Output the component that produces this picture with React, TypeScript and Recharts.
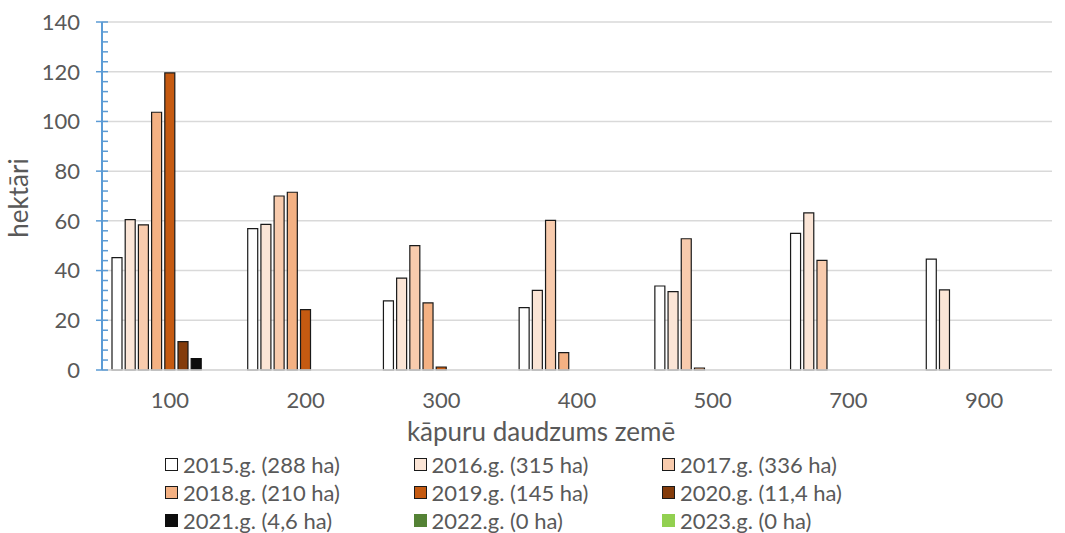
import { Bar, BarChart, CartesianGrid, Label, XAxis, YAxis } from 'recharts';

const FONT = 'Lato, "Open Sans", sans-serif';
const TEXT = '#595959';
const AXIS_BLUE = '#5B9BD5';
const GRID = '#D9D9D9';

// kāpuru daudzums zemē (kategorijas uz X ass)
const CATEGORIES = ['100', '200', '300', '400', '500', '700', '900'];
const Y_TICKS = [0, 20, 40, 60, 80, 100, 120, 140];
// mazās iedaļas ik pa 4 ha
const Y_MINOR = Array.from({ length: 36 }, (_, i) => i * 4);

// hektāri pa gadiem
const Y2015 = [45.2, 56.9, 27.8, 25.1, 33.8, 55.0, 44.6];
const Y2016 = [60.5, 58.6, 37.0, 32.0, 31.5, 63.2, 32.2];
const Y2017 = [58.4, 70.0, 50.0, 60.2, 52.8, 44.1, 0];
const Y2018 = [103.7, 71.5, 27.0, 7.0, 0.8, 0, 0];
const Y2019 = [119.5, 24.3, 1.2, 0, 0, 0, 0];
const Y2020 = [11.4, 0, 0, 0, 0, 0, 0];
const Y2021 = [4.6, 0, 0, 0, 0, 0, 0];
const Y2022 = [0, 0, 0, 0, 0, 0, 0];
const Y2023 = [0, 0, 0, 0, 0, 0, 0];

const SERIES = [
  { key: 'y2015', name: '2015.g. (288 ha)', values: Y2015, fill: '#FFFFFF', stroke: '#1a1a1a' },
  { key: 'y2016', name: '2016.g. (315 ha)', values: Y2016, fill: '#FBE5D6', stroke: '#1a1a1a' },
  { key: 'y2017', name: '2017.g. (336 ha)', values: Y2017, fill: '#F8CBAD', stroke: '#1a1a1a' },
  { key: 'y2018', name: '2018.g. (210 ha)', values: Y2018, fill: '#F4B183', stroke: '#1a1a1a' },
  { key: 'y2019', name: '2019.g. (145 ha)', values: Y2019, fill: '#C55A11', stroke: '#1a1a1a' },
  { key: 'y2020', name: '2020.g. (11,4 ha)', values: Y2020, fill: '#843C0C', stroke: '#1a1a1a' },
  { key: 'y2021', name: '2021.g. (4,6 ha)', values: Y2021, fill: '#0D0D0D', stroke: '#0D0D0D' },
  { key: 'y2022', name: '2022.g. (0 ha)', values: Y2022, fill: '#548235', stroke: '#548235' },
  { key: 'y2023', name: '2023.g. (0 ha)', values: Y2023, fill: '#92D050', stroke: '#92D050' },
];

const data = CATEGORIES.map((name, i) => {
  const row: Record<string, string | number> = { name };
  SERIES.forEach((s) => {
    row[s.key] = s.values[i];
  });
  return row;
});

// lielās iedaļas šķērso asi, mazās tikai uz iekšu
function YTick({ x, y, payload }: { x: number; y: number; payload: { value: number } }) {
  const v = payload.value;
  const major = v % 20 === 0;
  return (
    <g>
      <line x1={major ? x - 6 : x} x2={x + 6} y1={y} y2={y} stroke={AXIS_BLUE} strokeWidth={1.5} />
      {major && (
        <text x={x - 22} y={y} dy="0.36em" textAnchor="end" fill={TEXT} fontSize={22} fontFamily={FONT}>
          {v}
        </text>
      )}
    </g>
  );
}

function YearLegend() {
  return (
    <div
      style={{
        position: 'absolute',
        left: 165,
        top: 450,
        display: 'grid',
        gridTemplateColumns: '248.5px 248.5px 248.5px',
        gridAutoRows: '28px',
        fontFamily: FONT,
        fontSize: 22,
        color: TEXT,
      }}
    >
      {SERIES.map((s) => (
        <div key={s.key} style={{ display: 'flex', alignItems: 'center', whiteSpace: 'nowrap' }}>
          <span
            style={{
              width: 11,
              height: 11,
              background: s.fill,
              border: `1px solid ${s.stroke}`,
              marginRight: 5,
              display: 'inline-block',
              flexShrink: 0,
            }}
          />
          {s.name}
        </div>
      ))}
    </div>
  );
}

export default function App() {
  return (
    <div style={{ position: 'absolute', left: 0, top: 0, width: 1065, height: 533, background: '#fff' }}>
      <BarChart
        width={1065}
        height={533}
        data={data}
        margin={{ top: 22, right: 13, left: 0, bottom: 103 }}
        barSize={10}
        barGap={3.2}
      >
        <CartesianGrid
          horizontal
          vertical={false}
          horizontalValues={Y_TICKS}
          stroke={GRID}
          strokeWidth={1.5}
        />
        <XAxis
          dataKey="name"
          height={60}
          tickLine={false}
          axisLine={{ stroke: GRID, strokeWidth: 1.5 }}
          tickSize={0}
          tickMargin={22}
          tick={{ fill: TEXT, fontSize: 22, fontFamily: FONT }}
        >
          <Label
            content={({ viewBox }: any) => (
              <text
                x={viewBox.x + viewBox.width / 2 - 36}
                y={viewBox.y + 71}
                textAnchor="middle"
                fill={TEXT}
                fontSize={26}
                fontFamily={FONT}
              >
                kāpuru daudzums zemē
              </text>
            )}
          />
        </XAxis>
        <YAxis
          width={102}
          domain={[0, 140]}
          ticks={Y_MINOR}
          interval={0}
          tickLine={false}
          tickSize={0}
          tickMargin={0}
          axisLine={{ stroke: AXIS_BLUE, strokeWidth: 2 }}
          tick={(p: any) => <YTick {...p} />}
        >
          <Label
            content={({ viewBox }: any) => (
              <text
                x={viewBox.x + 28}
                y={viewBox.y + viewBox.height / 2 + 2}
                transform={`rotate(-90 ${viewBox.x + 28} ${viewBox.y + viewBox.height / 2 + 2})`}
                textAnchor="middle"
                fill={TEXT}
                fontSize={26}
                fontFamily={FONT}
              >
                hektāri
              </text>
            )}
          />
        </YAxis>
        {SERIES.map((s) => (
          <Bar
            key={s.key}
            dataKey={s.key}
            name={s.name}
            fill={s.fill}
            stroke={s.stroke}
            strokeWidth={1.2}
            isAnimationActive={false}
          />
        ))}
      </BarChart>
      <YearLegend />
    </div>
  );
}
